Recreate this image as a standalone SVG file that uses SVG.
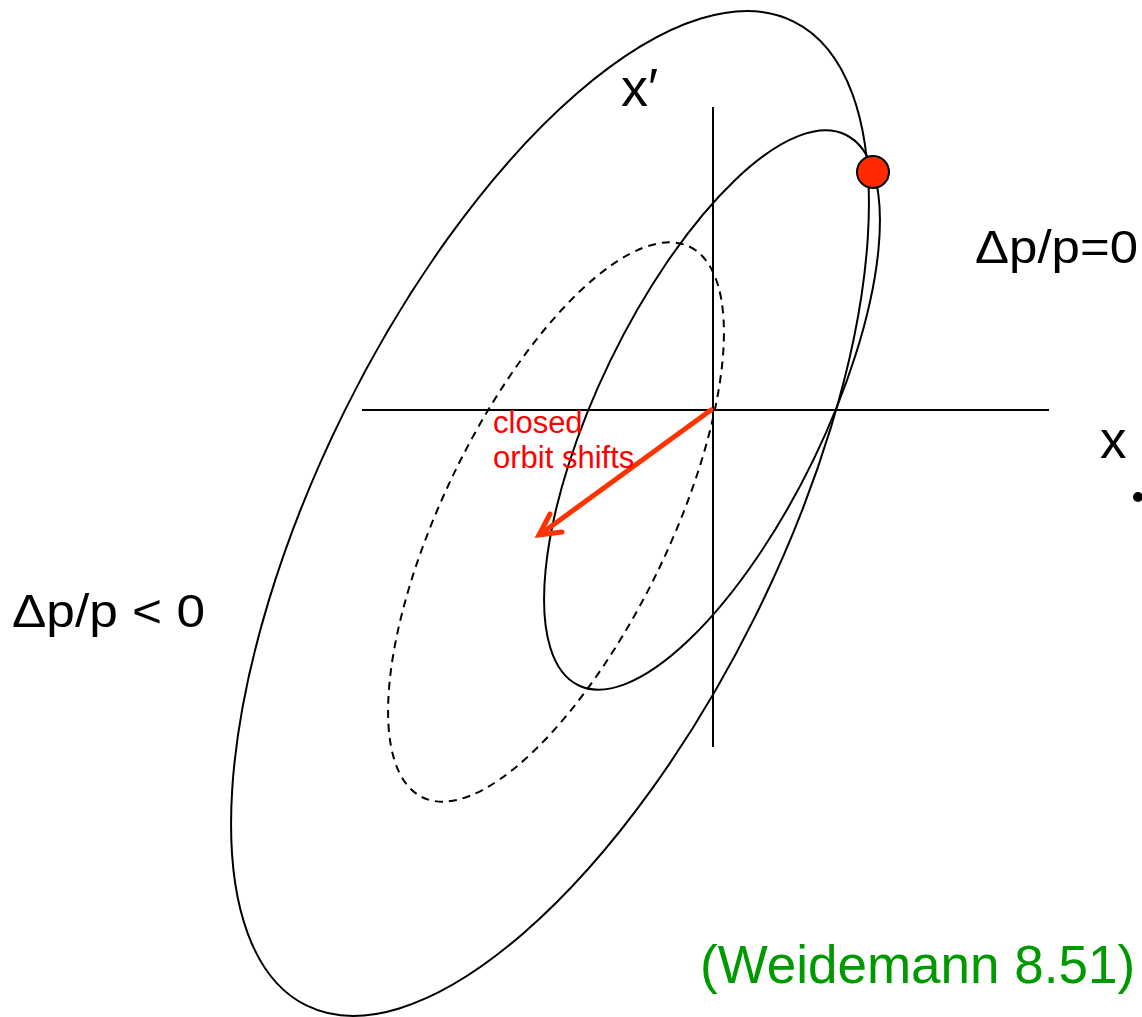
<svg xmlns="http://www.w3.org/2000/svg" width="1142" height="1017" viewBox="0 0 1142 1017">
<style>
.curve{fill:none;stroke:#000;stroke-width:2}
.lbl{font-family:"Liberation Sans",Arial,sans-serif;fill:#000}
.red{font-family:"Liberation Sans",Arial,sans-serif;font-size:31px;fill:#ff0000}
.arrow{fill:none;stroke:#ff3300;stroke-width:5;stroke-linecap:round}
</style>
<rect width="1142" height="1017" fill="#fff"/>
<g id="axes">
<line x1="362" y1="410" x2="1049" y2="410" stroke="#000" stroke-width="2"/>
<line x1="713" y1="107" x2="713" y2="747" stroke="#000" stroke-width="2"/>
</g>
<g id="ellipse-outer"><ellipse class="curve" cx="550" cy="513.5" rx="549" ry="229.6" transform="rotate(-63.65 550 513.5)"/></g>
<g id="ellipse-inner"><ellipse class="curve" cx="712" cy="410" rx="306" ry="113" transform="rotate(-64.1 712 410)"/></g>
<g id="ellipse-dashed"><ellipse class="curve" stroke-dasharray="8,6" cx="556" cy="522" rx="306" ry="113" transform="rotate(-64.1 556 522)"/></g>
<g id="connectors">
<line class="arrow" x1="711" y1="410" x2="542" y2="533"/>
<polyline class="arrow" points="550,514 539,535 562,532" stroke-linejoin="miter"/>
</g>
<g id="particle"><circle cx="873" cy="172" r="16" fill="#ff2a00" stroke="#000" stroke-width="2"/></g>
<g id="bullet"><circle cx="1138" cy="497" r="5" fill="#000"/></g>
<g id="labels">
<text class="lbl" x="621" y="106" font-size="54">x′</text>
<text class="lbl" x="975" y="263" font-size="46" textLength="163" lengthAdjust="spacingAndGlyphs">Δp/p=0</text>
<text class="lbl" x="1100" y="458" font-size="53">x</text>
<text class="lbl" x="12" y="627" font-size="46" textLength="193" lengthAdjust="spacingAndGlyphs">Δp/p &lt; 0</text>
<text class="red" x="493" y="433">closed</text>
<text class="red" x="493" y="468">orbit shifts</text>
<text class="lbl" x="700" y="983" font-size="53" style="fill:#009900">(Weidemann 8.51)</text>
</g>
</svg>
